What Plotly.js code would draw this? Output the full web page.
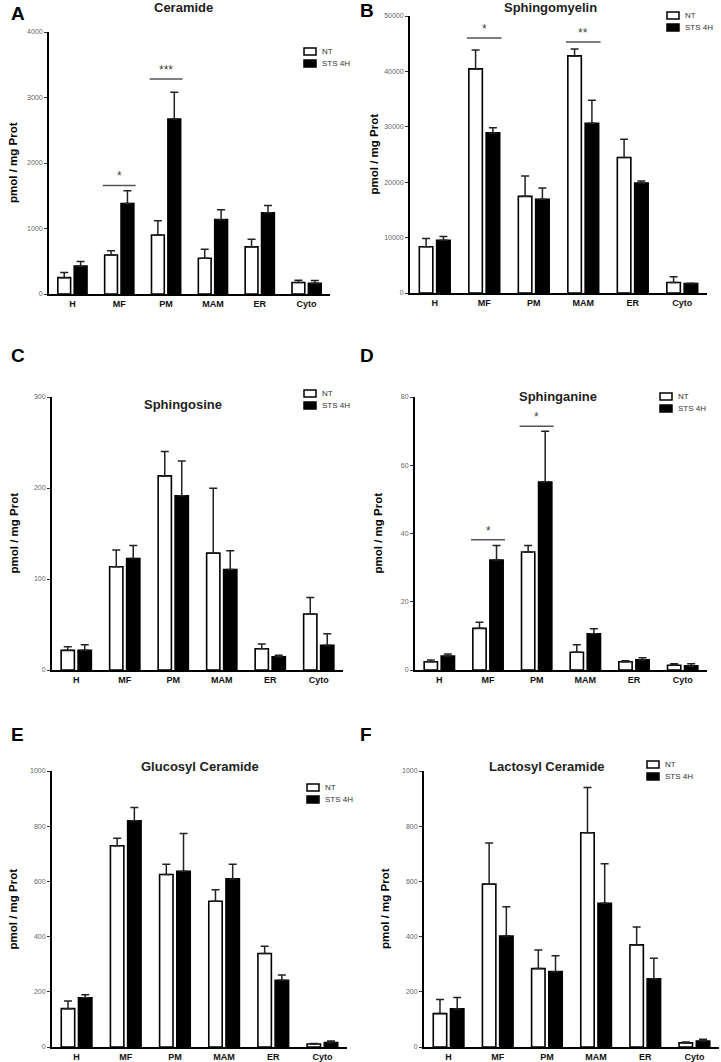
<!DOCTYPE html>
<html><head><meta charset="utf-8">
<script src="https://cdn.plot.ly/plotly-3.0.1.min.js"></script>
<style>html,body{margin:0;padding:0;background:#fff}#chart{width:721px;height:1062px}</style>
</head><body><div id="chart"></div>
<script>
// ---------- data ----------
const categories = ['H', 'MF', 'PM', 'MAM', 'ER', 'Cyto'];
const seriesNames = ['NT', 'STS 4H'];

const ceramideNT      = [250, 595, 900, 545, 720, 175];
const ceramideNTErr   = [80, 65, 220, 140, 115, 35];
const ceramideSTS     = [425, 1380, 2670, 1135, 1240, 165];
const ceramideSTSErr  = [70, 195, 410, 150, 110, 40];
const ceramideSig     = [{cat: 'MF', y: 1657, text: '*'}, {cat: 'PM', y: 3283, text: '***'}];

const sphingomyelinNT     = [8350, 40450, 17450, 42800, 24450, 1900];
const sphingomyelinNTErr  = [1500, 3400, 3650, 1250, 3300, 1050];
const sphingomyelinSTS    = [9500, 28900, 16900, 30650, 19850, 1700];
const sphingomyelinSTSErr = [700, 950, 2050, 4150, 350, 60];
const sphingomyelinSig    = [{cat: 'MF', y: 46030, text: '*'}, {cat: 'MAM', y: 45310, text: '**'}];

const sphingosineNT     = [21.6, 113.4, 213.3, 128.4, 23.4, 61.5];
const sphingosineNTErr  = [4, 18.6, 26.7, 71.4, 5.1, 18.3];
const sphingosineSTS    = [21.6, 122.6, 191.4, 110.5, 14.6, 27.1];
const sphingosineSTSErr = [6.2, 14.2, 38.4, 20.5, 1.5, 12.8];
const sphingosineSig    = [];

const sphinganineNT     = [2.4, 12.2, 34.6, 5.2, 2.4, 1.4];
const sphinganineNTErr  = [0.5, 1.8, 1.9, 2.2, 0.3, 0.4];
const sphinganineSTS    = [4.1, 32.2, 55.1, 10.6, 3.0, 1.2];
const sphinganineSTSErr = [0.6, 4.3, 14.9, 1.5, 0.6, 0.6];
const sphinganineSig    = [{cat: 'MF', y: 38.2, text: '*'}, {cat: 'PM', y: 71.4, text: '*'}];

const glucosylNT     = [139, 729, 625, 528, 339, 11];
const glucosylNTErr  = [28, 27, 37, 42, 26, 2];
const glucosylSTS    = [178, 820, 637, 609, 242, 16];
const glucosylSTSErr = [11, 48, 137, 53, 19, 6];
const glucosylSig    = [];

const lactosylNT     = [121, 590, 284, 776, 370, 15];
const lactosylNTErr  = [51, 149, 67, 164, 65, 3];
const lactosylSTS    = [138, 402, 273, 521, 247, 22];
const lactosylSTSErr = [41, 106, 58, 143, 75, 6];
const lactosylSig    = [];

// ---------- layout configuration (pixels) ----------
const W = 721, H = 1062;
const FONT = 'Arial, "Liberation Sans", sans-serif';
const panels = [
  {letter: 'A', title: 'Ceramide', nt: ceramideNT, ntErr: ceramideNTErr, sts: ceramideSTS, stsErr: ceramideSTSErr, sig: ceramideSig,
   ymax: 4000, dtick: 1000, box: [49, 330, 32, 294], titleXY: [183, 8], letterXY: [18, 13], yTitleX: 13, legXY: [304, 48]},
  {letter: 'B', title: 'Sphingomyelin', nt: sphingomyelinNT, ntErr: sphingomyelinNTErr, sts: sphingomyelinSTS, stsErr: sphingomyelinSTSErr, sig: sphingomyelinSig,
   ymax: 50000, dtick: 10000, box: [410, 707, 16, 293], titleXY: [550, 8], letterXY: [367, 11], yTitleX: 373, legXY: [667, 12]},
  {letter: 'C', title: 'Sphingosine', nt: sphingosineNT, ntErr: sphingosineNTErr, sts: sphingosineSTS, stsErr: sphingosineSTSErr, sig: sphingosineSig,
   ymax: 300, dtick: 100, box: [52, 343, 397, 670], titleXY: [183, 404], letterXY: [18, 355], yTitleX: 13, legXY: [304, 390]},
  {letter: 'D', title: 'Sphinganine', nt: sphinganineNT, ntErr: sphinganineNTErr, sts: sphinganineSTS, stsErr: sphinganineSTSErr, sig: sphinganineSig,
   ymax: 80, dtick: 20, box: [415, 707, 397, 670], titleXY: [558, 396], letterXY: [367, 355], yTitleX: 377, legXY: [660, 393]},
  {letter: 'E', title: 'Glucosyl Ceramide', nt: glucosylNT, ntErr: glucosylNTErr, sts: glucosylSTS, stsErr: glucosylSTSErr, sig: glucosylSig,
   ymax: 1000, dtick: 200, box: [52, 347, 771, 1047], titleXY: [200, 766], letterXY: [17, 734], yTitleX: 12.5, legXY: [307, 784]},
  {letter: 'F', title: 'Lactosyl Ceramide', nt: lactosylNT, ntErr: lactosylNTErr, sts: lactosylSTS, stsErr: lactosylSTSErr, sig: lactosylSig,
   ymax: 1000, dtick: 200, box: [424, 719, 771, 1047], titleXY: [547, 766], letterXY: [366, 734], yTitleX: 385, legXY: [647, 761]}
];

const px = x => x / W;
const py = y => 1 - y / H;

const traces = [];
const layout = {
  width: W, height: H,
  margin: {l: 0, r: 0, t: 0, b: 0},
  paper_bgcolor: '#fff', plot_bgcolor: 'rgba(0,0,0,0)',
  barmode: 'group', bargap: 0.3, bargroupgap: 0.22,
  showlegend: false,
  font: {family: FONT, color: '#000'},
  annotations: [], shapes: []
};

panels.forEach((p, i) => {
  const n = i + 1;
  const xa = 'x' + (n === 1 ? '' : n), ya = 'y' + (n === 1 ? '' : n);
  const [l, r, t, b] = p.box;
  const errStyle = {type: 'data', symmetric: false, color: '#222', thickness: 1.5, width: 4};
  traces.push({
    type: 'bar', name: seriesNames[0], x: categories, y: p.nt, xaxis: xa, yaxis: ya,
    marker: {color: '#fff', line: {color: '#000', width: 1.6}},
    error_y: Object.assign({array: p.ntErr, arrayminus: p.nt.map(() => 0)}, errStyle)
  });
  traces.push({
    type: 'bar', name: seriesNames[1], x: categories, y: p.sts, xaxis: xa, yaxis: ya,
    marker: {color: '#000', line: {color: '#000', width: 1.6}},
    error_y: Object.assign({array: p.stsErr, arrayminus: p.sts.map(() => 0)}, errStyle)
  });
  layout['xaxis' + (n === 1 ? '' : n)] = {
    domain: [px(l), px(r)], anchor: ya, type: 'category', range: [-0.5, 5.5],
    showline: true, linewidth: 2, linecolor: '#000', ticks: '', showgrid: false, zeroline: false,
    tickfont: {family: FONT, size: 9, color: '#111', weight: 700}, fixedrange: true
  };
  layout['yaxis' + (n === 1 ? '' : n)] = {
    domain: [py(b), py(t)], anchor: xa, range: [0, p.ymax], dtick: p.dtick, tick0: 0,
    tickformat: 'd', exponentformat: 'none', separatethousands: false,
    showline: true, linewidth: 2, linecolor: '#000', ticks: 'outside', ticklen: 3, tickwidth: 1, tickcolor: '#333',
    showgrid: false, zeroline: false, tickfont: {family: FONT, size: 7, color: '#666'}, fixedrange: true
  };
  // panel letter
  layout.annotations.push({xref: 'paper', yref: 'paper', x: px(p.letterXY[0]), y: py(p.letterXY[1]),
    xanchor: 'center', yanchor: 'middle', showarrow: false, text: p.letter,
    font: {family: FONT, size: 19, color: '#000', weight: 700}});
  // panel title
  layout.annotations.push({xref: 'paper', yref: 'paper', x: px(p.titleXY[0]), y: py(p.titleXY[1]),
    xanchor: 'center', yanchor: 'middle', showarrow: false, text: p.title,
    font: {family: FONT, size: 13, color: '#222', weight: 700}});
  // y axis title
  layout.annotations.push({xref: 'paper', yref: 'paper', x: px(p.yTitleX), y: py((t + b) / 2),
    xanchor: 'center', yanchor: 'middle', showarrow: false, text: 'pmol / mg Prot', textangle: -90,
    font: {family: FONT, size: 11.5, color: '#000', weight: 700}});
  // legend (drawn)
  const [lx, ly] = p.legXY;
  [['#fff', seriesNames[0]], ['#000', seriesNames[1]]].forEach((e, k) => {
    const yy = ly + k * 12;
    layout.shapes.push({type: 'rect', xref: 'paper', yref: 'paper',
      x0: px(lx), x1: px(lx + 12), y0: py(yy + 7), y1: py(yy),
      fillcolor: e[0], line: {color: '#000', width: 1.5}});
    layout.annotations.push({xref: 'paper', yref: 'paper', x: px(lx + 16), y: py(yy + 3.5),
      xanchor: 'left', yanchor: 'middle', showarrow: false, text: e[1],
      font: {family: FONT, size: 8, color: '#333'}});
  });
  // significance markers
  p.sig.forEach(s => {
    const idx = categories.indexOf(s.cat);
    layout.shapes.push({type: 'line', xref: xa, yref: ya, x0: idx - 0.35, x1: idx + 0.35, y0: s.y, y1: s.y,
      line: {color: '#555', width: 1.5}});
    layout.annotations.push({xref: xa, yref: ya, x: idx, y: s.y, xanchor: 'center', yanchor: 'bottom',
      showarrow: false, text: s.text, font: {family: FONT, size: 12, color: '#444'}});
  });
});

Plotly.newPlot('chart', traces, layout, {displayModeBar: false, staticPlot: true});
</script>
</body></html>
